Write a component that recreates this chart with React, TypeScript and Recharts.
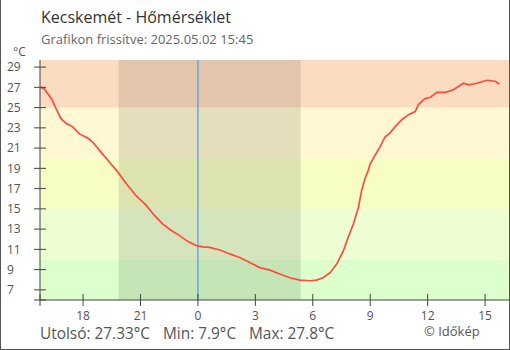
import React from "react";
import { ComposedChart, Line, XAxis, YAxis, ReferenceArea, ReferenceLine } from "recharts";

const hours = [-8.25, -8.05, -7.85, -7.63, -7.41, -7.15, -6.89, -6.54, -6.19, -5.76, -5.5, -5.15, -4.62, -4.19, -3.75, -3.23, -2.7, -2.27, -1.83, -1.39, -0.96, -0.52, -0.08, 0.26, 0.61, 1.14, 1.66, 2.18, 2.71, 3.23, 3.76, 4.28, 4.8, 5.33, 5.85, 6.2, 6.54, 6.9, 7.25, 7.6, 7.85, 8.12, 8.38, 8.55, 8.73, 8.9, 8.99, 9.25, 9.51, 9.77, 10.04, 10.3, 10.65, 11.0, 11.35, 11.52, 11.87, 12.13, 12.48, 12.92, 13.35, 13.87, 14.14, 14.58, 15.1, 15.53, 15.75];
const temps = [27.0, 26.9, 26.4, 25.8, 24.9, 23.9, 23.45, 23.1, 22.4, 22.0, 21.6, 20.8, 19.6, 18.65, 17.5, 16.3, 15.34, 14.35, 13.5, 12.86, 12.36, 11.77, 11.37, 11.25, 11.2, 10.94, 10.55, 10.2, 9.7, 9.2, 8.95, 8.56, 8.2, 7.96, 7.9, 7.96, 8.2, 8.7, 9.55, 10.87, 12.2, 13.5, 15.1, 16.8, 18.0, 18.8, 19.4, 20.3, 21.1, 22.1, 22.5, 23.1, 23.8, 24.3, 24.6, 25.3, 25.9, 26.0, 26.5, 26.5, 26.76, 27.4, 27.25, 27.4, 27.7, 27.6, 27.33];

const xDomain = [-8.25, 16.25];
const yDomain = [6, 29.7];
const xTicks = [-8.25, -6, -3, 0, 3, 6, 9, 12, 15];
const yTicks = [6, 7, 9, 11, 13, 15, 17, 19, 21, 23, 25, 27, 29];
const bandEdges = [6, 10, 15, 20, 25, 29.7];
const bandColors = ["#DDFFCC", "#EEFED3", "#F6FEC4", "#FFF8D2", "#FCDCC0"];
const sunset = -4.14;
const sunrise = 5.37;

const title = "Kecskemét - Hőmérséklet";
const subtitle = "Grafikon frissítve: 2025.05.02 15:45";
const unitLabel = "°C";
const lastText = "Utolsó: 27.33°C";
const minText = "Min: 7.9°C";
const maxText = "Max: 27.8°C";
const credit = "© Időkép";

const data = hours.map((h, i) => ({ h, t: temps[i] }));

const FONT = "'Open Sans', sans-serif";
const AXIS = "#444";

const YTick = (props: any) => {
  const { y, payload } = props;
  const v = payload.value;
  return (
    <g>
      <line x1={34} x2={46} y1={y} y2={y} stroke={AXIS} strokeWidth={1} />
      {v !== yDomain[0] && (
        <text x={7} y={y} dy={4.3} fontSize={12} fill="#555" fontFamily={FONT} textAnchor="start">
          {v}
        </text>
      )}
    </g>
  );
};

const XTick = (props: any) => {
  const { x, payload } = props;
  const v = payload.value;
  const label = v < 0 ? v + 24 : v;
  return (
    <g>
      <line x1={x} x2={x} y1={294} y2={306} stroke={AXIS} strokeWidth={1} />
      {v !== xDomain[0] && (
        <text x={x} y={320} fontSize={12} fill="#555" fontFamily={FONT} textAnchor="middle">
          {label}
        </text>
      )}
    </g>
  );
};

const abs = (left: number, top: number, size: number, color: string): React.CSSProperties => ({
  position: "absolute",
  left,
  top,
  fontSize: size,
  color,
  fontFamily: FONT,
  whiteSpace: "pre",
  lineHeight: 1,
});

export default function App() {
  return (
    <div style={{ position: "relative", width: 510, height: 350, background: "#fff", overflow: "hidden" }}>
      <style>{`body{margin:0}`}</style>
      <ComposedChart width={510} height={350} data={data} margin={{ top: 60, right: 1, bottom: 0, left: 0 }}>
        {bandColors.map((c, i) => (
          <ReferenceArea key={"b" + i} x1={xDomain[0]} x2={xDomain[1]} y1={bandEdges[i]} y2={bandEdges[i + 1]} fill={c} fillOpacity={1} stroke="none" ifOverflow="hidden" />
        ))}
        <ReferenceArea x1={sunset} x2={sunrise} y1={yDomain[0]} y2={yDomain[1]} fill="#000" fillOpacity={0.1} stroke="none" />
        <XAxis
          type="number"
          dataKey="h"
          domain={xDomain}
          ticks={xTicks}
          allowDataOverflow
          height={50}
          tickLine={false}
          axisLine={{ stroke: AXIS }}
          tick={<XTick />}
          interval={0}
        />
        <YAxis
          type="number"
          domain={yDomain}
          ticks={yTicks}
          allowDataOverflow
          width={40}
          tickLine={false}
          axisLine={{ stroke: AXIS }}
          tick={<YTick />}
          interval={0}
        />
        <ReferenceLine x={0} stroke="#2196F3" strokeWidth={1} />
        <Line type="linear" dataKey="t" stroke="#FF4A3D" strokeWidth={1.7} dot={false} isAnimationActive={false} />
      </ComposedChart>
      <div style={abs(41, 9, 16, "#333")}>{title}</div>
      <div style={abs(41, 33, 13, "#666")}>{subtitle}</div>
      <div style={abs(13, 46, 12, "#555")}>{unitLabel}</div>
      <div style={abs(40, 326, 15.4, "#555")}>{lastText}</div>
      <div style={abs(163, 326, 15.4, "#555")}>{minText}</div>
      <div style={abs(249, 326, 15.4, "#555")}>{maxText}</div>
      <div style={abs(424, 325, 13, "#555")}>{credit}</div>
      <div
        style={{
          position: "absolute",
          left: 0,
          top: 0,
          width: 510,
          height: 350,
          boxSizing: "border-box",
          borderLeft: "1px solid #555",
          borderRight: "1px solid #555",
          borderBottom: "1px solid #555",
          pointerEvents: "none",
        }}
      />
    </div>
  );
}
